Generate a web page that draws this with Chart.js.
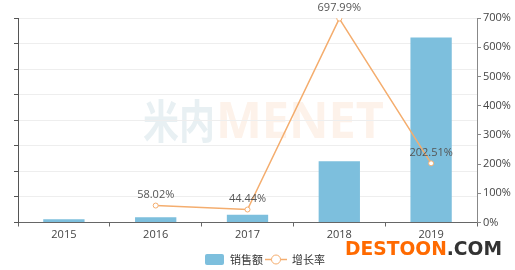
<!DOCTYPE html>
<html>
<head>
<meta charset="utf-8">
<style>
  body { margin: 0; background: #fff; }
  #wrap { width: 515px; height: 270px; }
</style>
</head>
<body>
<div id="wrap"><canvas id="myChart" width="515" height="270"></canvas></div>

<script src="https://cdn.jsdelivr.net/npm/chart.js"></script>
<script>
    const years = ['2015', '2016', '2017', '2018', '2019'];
    const sales = [0.13, 0.21, 0.30, 2.40, 7.24];           // 销售额 (left axis has no labels)
    const growth = [null, 58.02, 44.44, 697.99, 202.51];     // 增长率 %
    const rightTicks = [0, 100, 200, 300, 400, 500, 600, 700];

    const FONT = "'Open Sans', 'Noto Sans CJK SC', sans-serif";
    const BAR = '#7dbfdd';
    const LINE = '#f4ad6e';

    // squeeze/stretch a text run into a given width
    function fitText(ctx, txt, x, y, w) {
        const m = ctx.measureText(txt).width;
        ctx.save();
        ctx.translate(x, y);
        ctx.scale(w / m, 1);
        ctx.fillText(txt, 0, 0);
        ctx.restore();
    }

    // watermark + point labels + legend, drawn by hand
    const extras = {
        id: 'extras',
        beforeDraw(chart) {
            // background watermark, under the grid
            const ctx = chart.ctx;
            ctx.save();
            ctx.textBaseline = 'alphabetic';
            ctx.font = "bold 46px 'Noto Sans CJK SC', sans-serif";
            ctx.fillStyle = '#e8f0f3';
            fitText(ctx, '米内', 143, 138, 72);
            ctx.font = "bold 50px 'Open Sans', sans-serif";
            ctx.fillStyle = '#fdf2ea';
            fitText(ctx, 'MENET', 216, 138, 168);
            ctx.restore();
        },
        afterDraw(chart) {
            const ctx = chart.ctx;
            ctx.save();
            // growth labels
            const meta = chart.getDatasetMeta(1);
            ctx.font = '11px ' + FONT;
            ctx.fillStyle = '#555';
            ctx.textAlign = 'center';
            ctx.textBaseline = 'bottom';
            meta.data.forEach((pt, i) => {
                if (growth[i] == null) return;
                ctx.fillText(growth[i].toFixed(2) + '%', pt.x, pt.y - 5);
            });

            // legend
            ctx.textAlign = 'left';
            ctx.textBaseline = 'middle';
            ctx.fillStyle = BAR;
            ctx.beginPath();
            ctx.roundRect(205, 254, 19, 11, 2);
            ctx.fill();
            ctx.fillStyle = '#333';
            ctx.font = "11px 'Noto Sans CJK SC', sans-serif";
            ctx.fillText('销售额', 230, 259.5);
            ctx.strokeStyle = LINE;
            ctx.lineWidth = 1.5;
            ctx.beginPath();
            ctx.moveTo(265, 259.5);
            ctx.lineTo(287, 259.5);
            ctx.stroke();
            ctx.beginPath();
            ctx.arc(276, 259.5, 4.5, 0, Math.PI * 2);
            ctx.fillStyle = '#fff';
            ctx.fill();
            ctx.lineWidth = 1;
            ctx.stroke();
            ctx.fillStyle = '#333';
            ctx.fillText('增长率', 292, 259.5);

            // site watermark
            ctx.font = "bold 19px 'DejaVu Sans', sans-serif";
            ctx.textBaseline = 'alphabetic';
            const w1 = ctx.measureText('DESTOON').width;
            const w2 = ctx.measureText('.COM').width;
            const k = 157 / (w1 + w2);
            ctx.fillStyle = '#ff6a00';
            fitText(ctx, 'DESTOON', 345, 254.5, w1 * k);
            ctx.fillStyle = '#333';
            fitText(ctx, '.COM', 345 + w1 * k, 254.5, w2 * k);
            ctx.restore();
        }
    };

    const config = {
        data: {
            labels: years,
            datasets: [{
                type: 'bar',
                label: '销售额',
                data: sales,
                backgroundColor: BAR,
                yAxisID: 'y',
                order: 2,
                categoryPercentage: 1,
                barPercentage: 0.45
            }, {
                type: 'line',
                label: '增长率',
                data: growth,
                borderColor: LINE,
                borderWidth: 1.5,
                backgroundColor: '#fff',
                pointBackgroundColor: '#fff',
                pointBorderColor: LINE,
                pointBorderWidth: 1,
                pointRadius: 2.5,
                yAxisID: 'y1',
                order: 1,
                tension: 0
            }]
        },
        options: {
            responsive: false,
            animation: false,
            layout: { padding: { top: 18, left: 0, right: 0, bottom: 0 } },
            plugins: {
                legend: { display: false },
                tooltip: { enabled: false }
            },
            scales: {
                x: {
                    offset: true,
                    grid: { drawOnChartArea: false, tickLength: 4, tickColor: '#666', offset: true },
                    border: { color: '#666' },
                    ticks: { color: '#444', font: { family: FONT, size: 11 }, padding: 2 },
                    afterFit(s) { s.height = 47.5; }
                },
                y: {
                    position: 'left',
                    min: 0,
                    max: 8,
                    ticks: { stepSize: 1, display: false },
                    grid: { color: '#eeeeee', tickLength: 4, tickColor: '#555' },
                    border: { color: '#555' },
                    afterFit(s) { s.width = 18; }
                },
                y1: {
                    position: 'right',
                    min: 0,
                    max: 700,
                    afterBuildTicks(s) { s.ticks = rightTicks.map(v => ({ value: v })); },
                    ticks: {
                        color: '#444',
                        font: { family: FONT, size: 11 },
                        padding: 2,
                        callback: v => v + '%'
                    },
                    grid: { drawOnChartArea: false, tickLength: 4, tickColor: '#888' },
                    border: { color: '#888' },
                    afterFit(s) { s.width = 38; }
                }
            }
        },
        plugins: [extras]
    };

    const myChart = new Chart(document.getElementById('myChart'), config);
</script>
</body>
</html>
